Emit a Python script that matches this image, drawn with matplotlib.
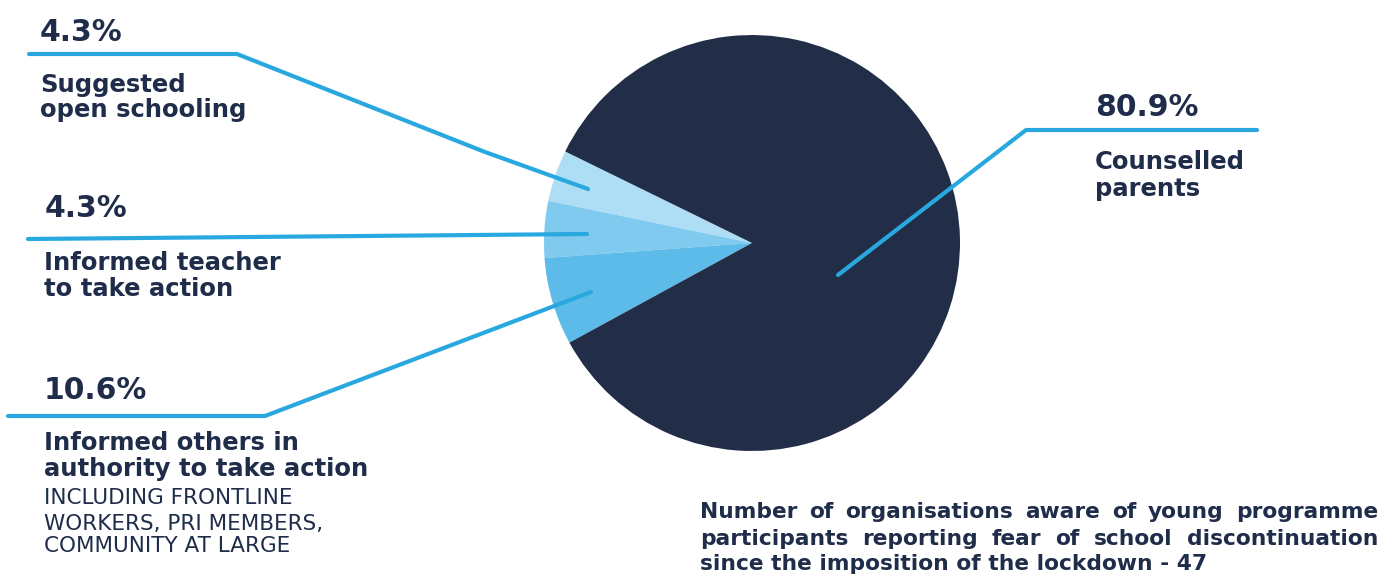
import matplotlib
matplotlib.use("Agg")
import matplotlib.pyplot as plt

W, H = 1381, 576

# slice shares as drawn in the picture (wedges), and the printed labels
wedge_share = [4.0, 4.4, 6.8, 84.8]
wedge_colors = ['#aedef5', '#80c9ef', '#5cbbe8', '#222e48']
pct_labels = ['4.3%', '4.3%', '10.6%', '80.9%']
cat_labels = [['Suggested', 'open schooling'],
              ['Informed teacher', 'to take action'],
              ['Informed others in', 'authority to take action'],
              ['Counselled', 'parents']]
sub_note = ['INCLUDING FRONTLINE', 'WORKERS, PRI MEMBERS,', 'COMMUNITY AT LARGE']
title_lines = ['Number of organisations aware of young programme',
               'participants reporting fear of school discontinuation',
               'since the imposition of the lockdown - 47']

TEXT = '#1f2d4a'
LINE = '#29a8e0'
FONT = 'DejaVu Sans'

fig = plt.figure(figsize=(W / 100, H / 100), dpi=100)
ax = fig.add_axes([0, 0, 1, 1])


def py(y):
    # picture rows run downward
    return H - y


# pie
ax.pie(wedge_share, colors=wedge_colors, startangle=153.9, counterclock=True,
       center=(752, py(243)), radius=208, frame=True,
       wedgeprops=dict(linewidth=0))
ax.set_xlim(0, W)
ax.set_ylim(0, H)
ax.axis('off')

# leader lines
leaders = [
    [(29, 54), (237, 54), (485, 152), (588, 189)],
    [(28, 239), (587, 234)],
    [(8, 416), (265, 416), (591, 292)],
    [(1257, 130), (1026, 130), (838, 275)],
]
for pts in leaders:
    xs = [p[0] for p in pts]
    ys = [py(p[1]) for p in pts]
    ax.plot(xs, ys, color=LINE, lw=3.0, solid_capstyle='round',
            solid_joinstyle='round', zorder=5)

# percentage labels (x, baseline)
pct_pos = [(40, 41), (45, 217), (44, 399), (1095, 116)]
for (x, y), s in zip(pct_pos, pct_labels):
    ax.text(x, py(y), s, fontsize=21.5, fontweight='bold', color=TEXT,
            family=FONT, va='baseline', ha='left')

# category labels (x, first baseline, line step)
cat_pos = [(40, 92, 25), (44, 270, 26), (44, 450, 26), (1095, 169, 27)]
for (x, y, step), lines in zip(cat_pos, cat_labels):
    for i, s in enumerate(lines):
        ax.text(x, py(y + i * step), s, fontsize=17.5, fontweight='bold',
                color=TEXT, family=FONT, va='baseline', ha='left')

for i, s in enumerate(sub_note):
    ax.text(44, py([504, 530, 552][i]), s, fontsize=15.5, color=TEXT,
            family=FONT, va='baseline', ha='left')

# justified title block at bottom right
renderer = fig.canvas.get_renderer()
x0, x1 = 700, 1378
baselines = [518, 545, 570]
for li, line in enumerate(title_lines):
    words = line.split(' ')
    if li == len(title_lines) - 1:
        ax.text(x0, py(baselines[li]), line, fontsize=15.7, fontweight='bold',
                color=TEXT, family=FONT, va='baseline', ha='left')
        continue
    arts = [ax.text(0, py(baselines[li]), w, fontsize=15.7, fontweight='bold',
                    color=TEXT, family=FONT, va='baseline', ha='left')
            for w in words]
    widths = [a.get_window_extent(renderer).width for a in arts]
    gap = (x1 - x0 - sum(widths)) / (len(words) - 1)
    x = x0
    for a, w in zip(arts, widths):
        a.set_x(x)
        x += w + gap

fig.savefig('out.png', dpi=100, facecolor='white')
